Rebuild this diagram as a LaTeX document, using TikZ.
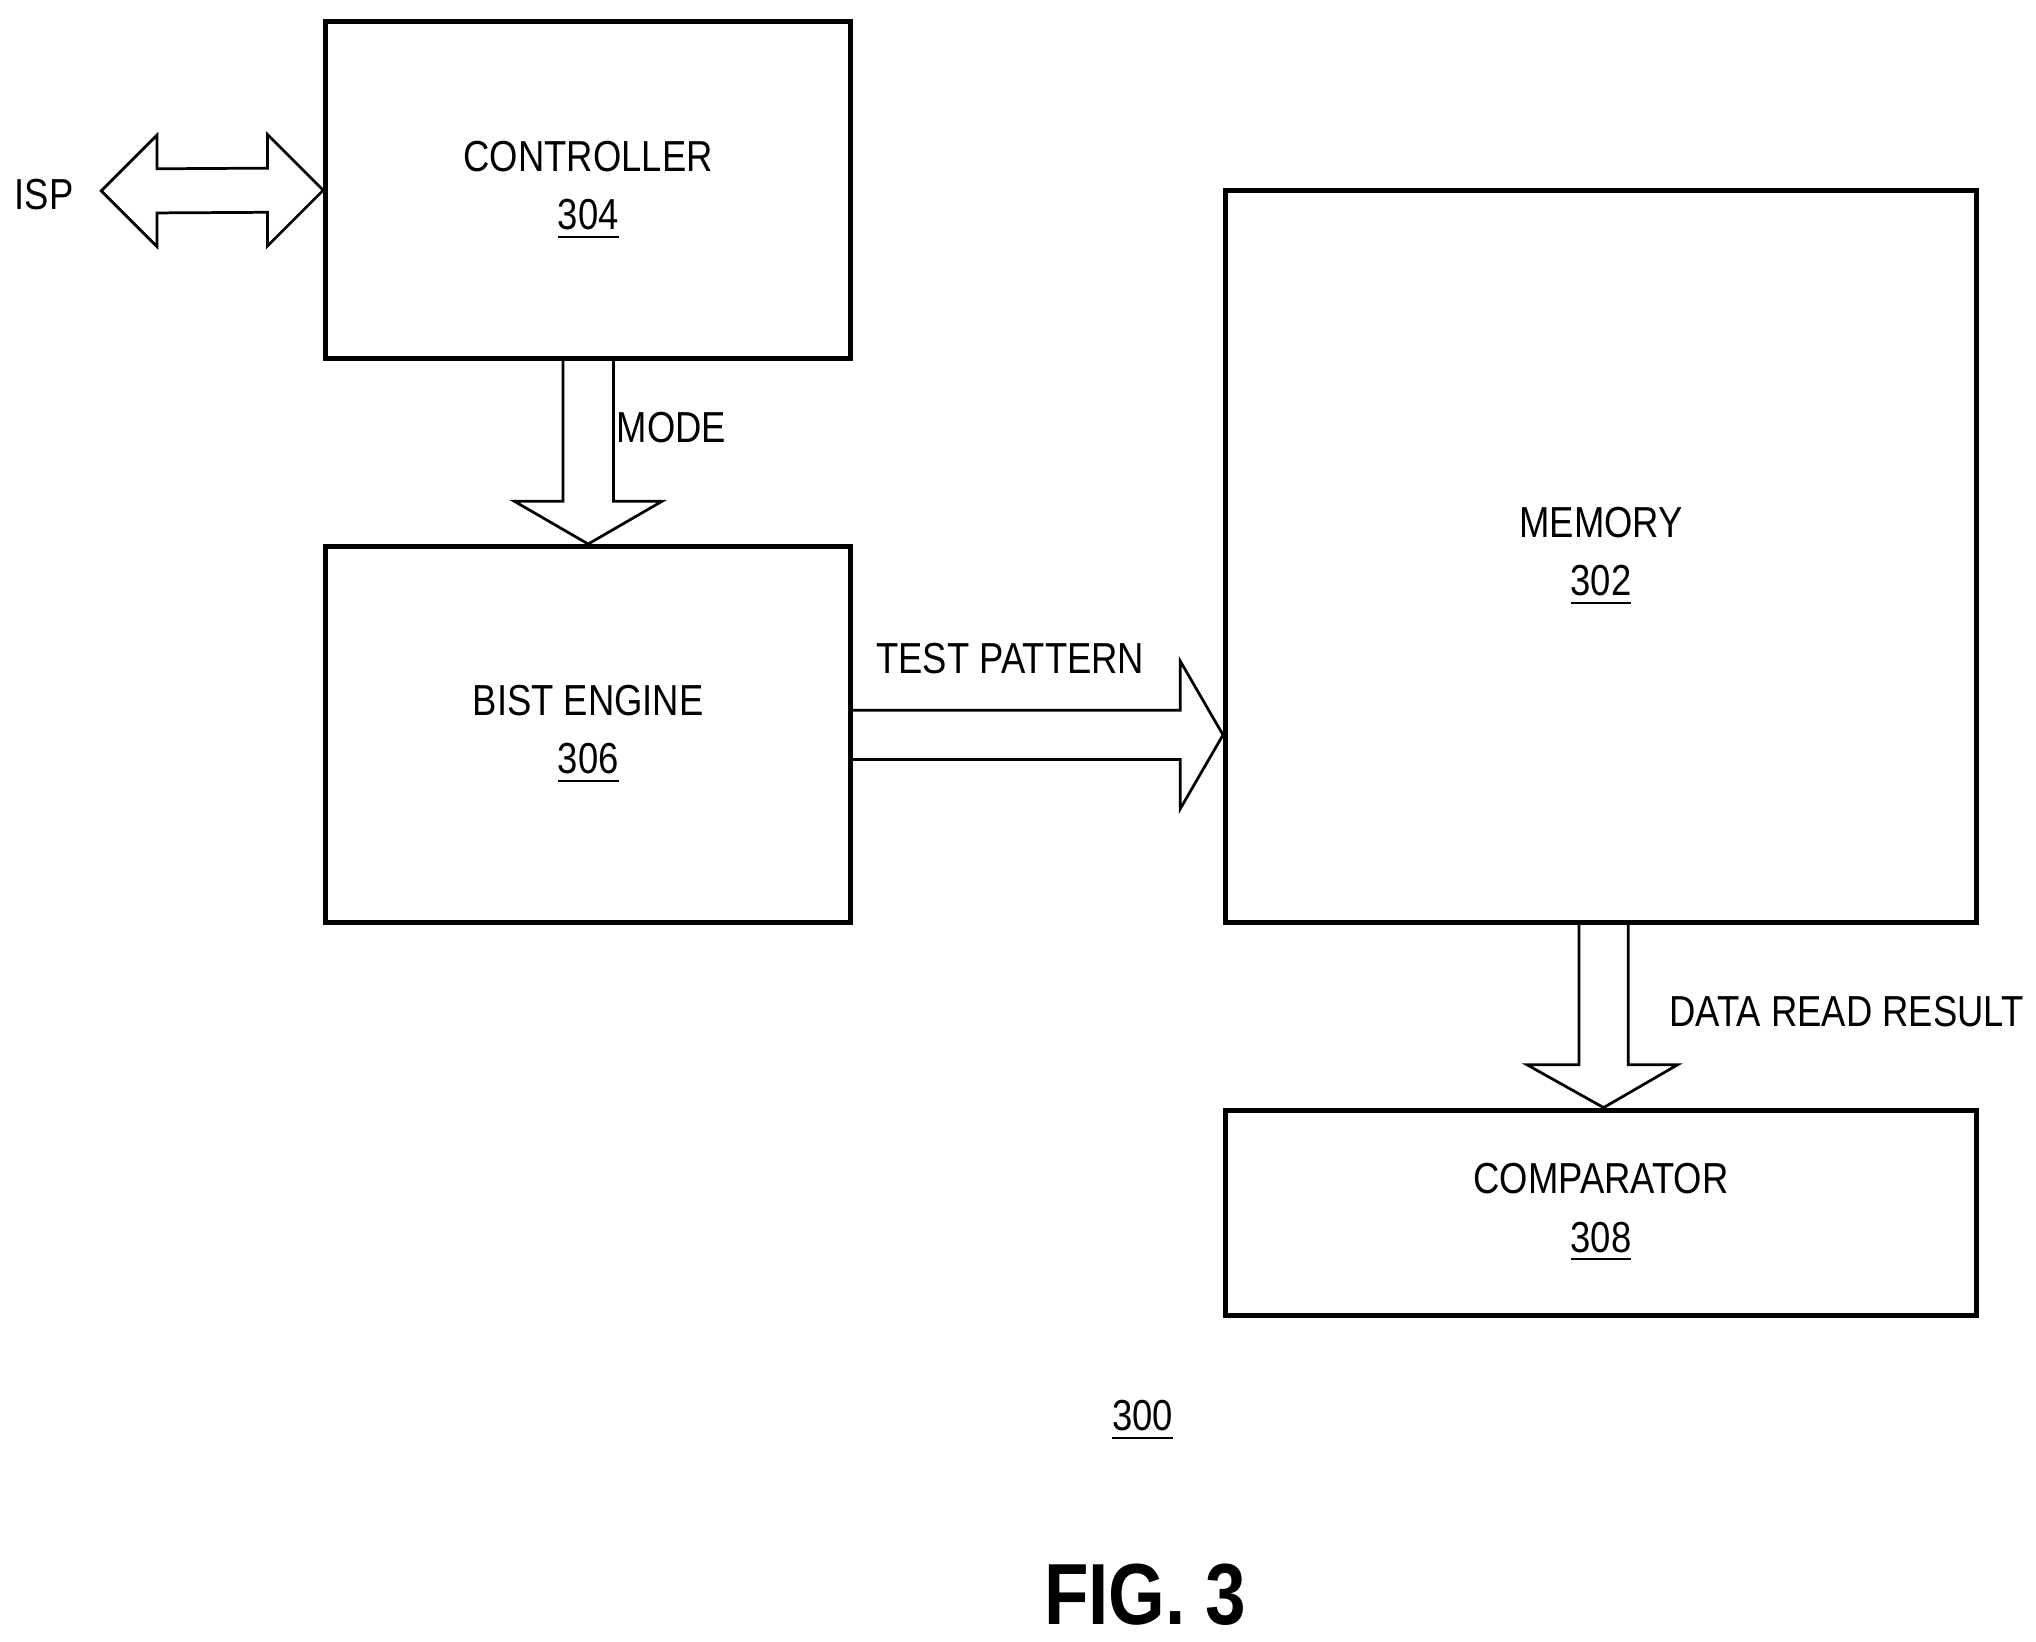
\documentclass[tikz,border=0pt]{standalone}
\usepackage{fontspec}
\setmainfont{Liberation Sans}[FakeStretch=0.84]
\usetikzlibrary{calc}

\tikzset{
  box/.style={draw, line width=1.1pt, align=center, inner sep=0pt,
    font=\fontsize{9.5}{12.8}\selectfont},
  lbl/.style={font=\fontsize{9.5}{12}\selectfont},
  blk/.style={draw, line width=0.6pt}
}

\begin{document}
\begin{tikzpicture}[x=0.01cm, y=-0.01cm]
            \useasboundingbox (0,0) rectangle (1568,1264);

            \node[box, minimum width=4.04cm, minimum height=2.59cm] (ctrl) at (453,146.5) {CONTROLLER\\[0pt]\underline{304}};
            \node[box, minimum width=4.04cm, minimum height=2.89cm] (bist) at (453,565.5) {BIST ENGINE\\[0pt]\underline{306}};
            \node[box, minimum width=5.78cm, minimum height=5.63cm] (mem) at (1233,428.5) {MEMORY\\[0pt]\underline{302}};
            \node[box, minimum width=5.78cm, minimum height=1.58cm] (cmp) at (1233,934) {COMPARATOR\\[0pt]\underline{308}};

            \node[lbl] (isp) at (34,150) {ISP};
            \coordinate (ispend) at (78,147);

            % double arrow to controller
            \draw[blk] (ispend) -- ++(43,-43) -- ++(0,26) -- ($(ctrl.west)+(-43,-17)$)
              -- ++(0,-26) -- (ctrl.west) -- ++(-43,43) -- ++(0,-26)
              -- ($(ispend)+(43,17)$) -- ++(0,26) -- cycle;

            % mode arrow
            \draw[blk] ($(ctrl.south)+(-19.5,0)$) -- ($(bist.north)+(-19.5,-33)$) -- ++(-37.5,0)
              -- (bist.north) -- ++(57,-33) -- ++(-37.5,0) -- ($(ctrl.south)+(19.5,0)$);
            \node[lbl] (mode) at (517,329) {MODE};

            % test pattern arrow
            \coordinate (tp) at (mem.west |- 0,566);
            \draw[blk] (bist.east |- 0,547) -- ($(tp)+(-33,-19)$) -- ++(0,-38)
              -- (tp) -- ++(-33,57) -- ++(0,-38) -- (bist.east |- 0,585);
            \node[lbl] (tplbl) at (778,507) {TEST PATTERN};

            % data read arrow
            \draw[blk] ($(mem.south)+(-17,0)$) -- ($(cmp.north)+(-17,-33)$) -- ++(-40,0)
              -- ($(cmp.north)+(2,0)$) -- ++(57,-33) -- ++(-38,0) -- ($(mem.south)+(21,0)$);
            \node[lbl] (drlbl) at (1422,779) {DATA READ RESULT};

            \node[lbl] (ref) at (880,1094) {\underline{300}};
            \node[font=\fontsize{19}{22}\selectfont\bfseries] (fig) at (882,1228) {FIG. 3};
        \end{tikzpicture}
\end{document}
